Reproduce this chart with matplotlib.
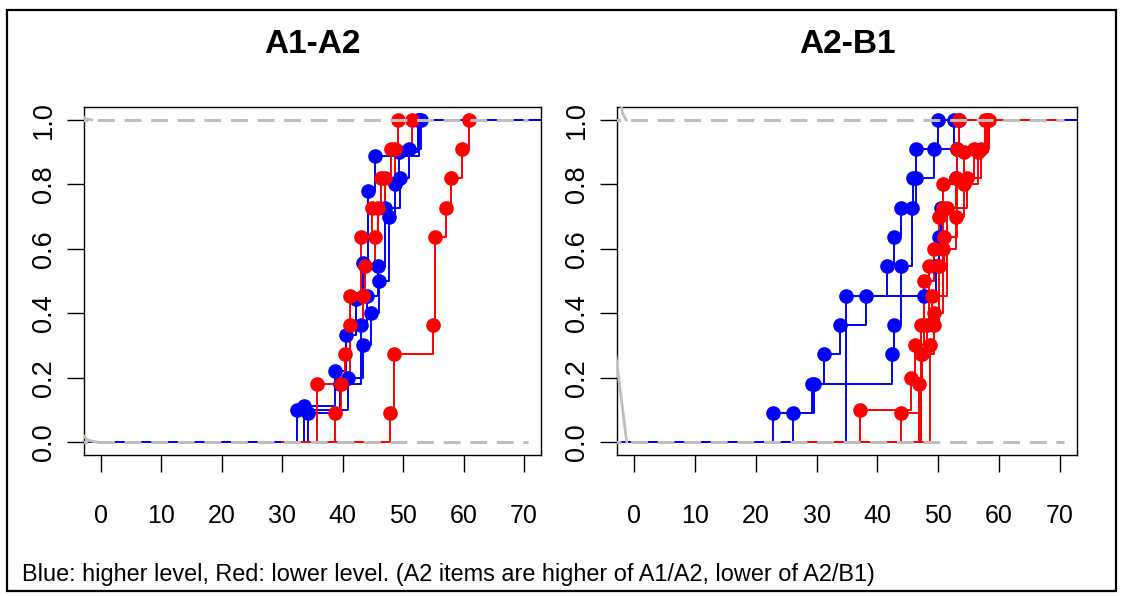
import matplotlib
matplotlib.use("Agg")
import matplotlib.pyplot as plt
from matplotlib.patches import Rectangle

plt.rcParams['font.family'] = ['Liberation Sans', 'DejaVu Sans']

W, H = 1124, 596

# ---------------- data ----------------
titles = ["A1-A2", "A2-B1"]
x_ticks = [0, 10, 20, 30, 40, 50, 60, 70]
y_ticks = [0.0, 0.2, 0.4, 0.6, 0.8, 1.0]
y_tick_labels = ["0.0", "0.2", "0.4", "0.6", "0.8", "1.0"]
caption = "Blue: higher level, Red: lower level. (A2 items are higher of A1/A2, lower of A2/B1)"

# Panel A1-A2: step curves (jump x, level after jump)
a1a2_blue = [
    ([32.5, 40.8, 43.3, 44.6, 46.0, 47.6, 48.6, 49.3, 52.5],
     [0.1, 0.2, 0.3, 0.4, 0.5, 0.7, 0.8, 0.9, 1.0]),
    ([33.6, 38.8, 40.6, 42.2, 43.4, 44.2, 45.3, 52.7],
     [1/9, 2/9, 3/9, 4/9, 5/9, 7/9, 8/9, 1.0]),
    ([34.2, 39.6, 43.1, 44.0, 45.8, 47.0, 49.4, 51.0, 53.0],
     [1/11, 2/11, 4/11, 5/11, 6/11, 8/11, 9/11, 10/11, 1.0]),
]
a1a2_red = [
    ([35.7, 40.3, 41.2, 43.1, 44.8, 46.3, 48.6, 49.1],
     [2/11, 3/11, 5/11, 7/11, 8/11, 9/11, 10/11, 1.0]),
    ([38.8, 39.7, 41.2, 43.4, 43.7, 45.3, 45.8, 47.0, 48.0, 51.4],
     [1/11, 2/11, 4/11, 5/11, 6/11, 7/11, 8/11, 9/11, 10/11, 1.0]),
    ([47.8, 48.5, 54.9, 55.3, 57.1, 57.9, 59.8, 60.9],
     [1/11, 3/11, 4/11, 7/11, 8/11, 9/11, 10/11, 1.0]),
]
a1a2_blue_span = (-8, 80)
a1a2_red_span = (30, None)      # None: red lines stop at their last jump

# Panel A2-B1
a2b1_blue = [
    ([22.9, 29.3, 31.2, 33.8, 38.1, 41.6, 42.7, 43.8, 45.9, 46.3, 49.9],
     [1/11, 2/11, 3/11, 4/11, 5/11, 6/11, 7/11, 8/11, 9/11, 10/11, 1.0]),
    ([26.2, 29.6, 42.4, 42.7, 43.9, 45.7, 46.3, 49.3, 52.6],
     [1/11, 2/11, 3/11, 4/11, 6/11, 8/11, 9/11, 10/11, 1.0]),
    ([34.9, 47.7, 49.6, 50.1, 50.4, 52.9, 53.1, 53.4],
     [5/11, 5/11, 6/11, 7/11, 8/11, 9/11, 10/11, 1.0]),
]
a2b1_red = [
    ([37.2, 45.5, 46.2, 47.7, 49.3, 50.1, 50.7, 54.3, 58.1],
     [0.1, 0.2, 0.3, 0.5, 0.6, 0.7, 0.8, 0.9, 1.0]),
    ([43.8, 47.1, 48.5, 50.7, 52.9, 55.8, 58.3],
     [1/11, 4/11, 6/11, 8/11, 9/11, 10/11, 1.0]),
    ([46.8, 47.3, 49.3, 50.1, 51.0, 53.0, 53.4],
     [2/11, 3/11, 4/11, 6/11, 7/11, 10/11, 1.0]),
    ([47.1, 48.1, 49.0, 51.5, 54.8, 57.0, 58.0],
     [3/11, 4/11, 5/11, 8/11, 9/11, 10/11, 1.0]),
    ([48.6, 49.3, 50.7, 52.9, 54.3, 56.5, 57.6],
     [0.3, 0.4, 0.6, 0.7, 0.8, 0.9, 1.0]),
]
a2b1_blue_span = (-8, 80)
a2b1_red_span = (27, 70)

# gray reference curves near the left edge
a1a2_gray_top = ([-3.0, -2.4, -1.5], [1.01, 1.003, 1.0])
a1a2_gray_bot = ([-3.0, -2.2, -0.7], [0.022, 0.006, 0.0])
a2b1_gray_top = ([-2.2, -1.9, -1.3], [1.06, 1.02, 1.0])
a2b1_gray_bot = ([-3.0, -2.0, -1.2], [0.27, 0.12, 0.0])
ref_x = [-5, 70.6]

panels = [
    (titles[0], a1a2_blue, a1a2_red, a1a2_blue_span, a1a2_red_span,
     a1a2_gray_top, a1a2_gray_bot),
    (titles[1], a2b1_blue, a2b1_red, a2b1_blue_span, a2b1_red_span,
     a2b1_gray_top, a2b1_gray_bot),
]

# ---------------- figure ----------------
fig = plt.figure(figsize=(W / 100, H / 100), dpi=100)
fig.patch.set_facecolor("white")

def fx(px):
    return px / W

def fy(py):
    return 1 - py / H

ax_rects = [
    [fx(84), fy(455), fx(541) - fx(84), fy(107) - fy(455)],
    [fx(617), fy(455), fx(1077) - fx(617), fy(107) - fy(455)],
]

XMIN, XMAX = -2.8, 72.8
GRAY = "#bebebe"
BLUE = "#0000ff"
RED = "#ff0000"

def step_line(ax, xs, ys, span, col):
    x0, x1 = span
    sx = [x0] + list(xs)
    sy = [0.0] + list(ys)
    if x1 is not None:
        sx.append(x1)
        sy.append(ys[-1])
    ax.plot(sx, sy, drawstyle="steps-post", color=col, lw=1.4, zorder=2)

for rect, (title, blues, reds, bspan, rspan, gtop, gbot) in zip(ax_rects, panels):
    ax = fig.add_axes(rect)
    ax.set_xlim(XMIN, XMAX)
    ax.set_ylim(-0.04, 1.04)
    for xs, ys in blues:
        step_line(ax, xs, ys, bspan, BLUE)
    for xs, ys in reds:
        step_line(ax, xs, ys, rspan, RED)
    for col, curves in ((BLUE, blues), (RED, reds)):
        for xs, ys in curves:
            ax.plot(xs, ys, "o", color=col, ms=9.5, mec=col, zorder=3)
    ax.plot(*gtop, color=GRAY, lw=2.0, zorder=5)
    ax.plot(*gbot, color=GRAY, lw=2.0, zorder=5)
    for yv in (0.0, 1.0):
        ax.plot(ref_x, [yv, yv], color=GRAY, lw=2.2, ls=(0, (5.5, 3.2)),
                zorder=5)
    ax.set_title(title, fontsize=24, fontweight="bold", pad=39)
    ax.set_xticks(x_ticks)
    ax.set_xticklabels([str(t) for t in x_ticks], fontsize=18)
    ax.set_yticks(y_ticks)
    ax.set_yticklabels(y_tick_labels, fontsize=19.5, rotation=90, va="center")
    ax.tick_params(axis="x", length=12.2, width=1.0, pad=23)
    ax.tick_params(axis="y", length=12.2, width=1.0, pad=7)
    for sp in ax.spines.values():
        sp.set_linewidth(1.0)

fig.text(fx(22), fy(581), caption, fontsize=16.9, va="baseline", ha="left")

fig.patches.append(Rectangle((fx(7), fy(591)), fx(1116) - fx(7), fy(10) - fy(591),
                             transform=fig.transFigure, fill=False,
                             edgecolor="black", linewidth=1.6))

fig.savefig("out.png", dpi=100)
